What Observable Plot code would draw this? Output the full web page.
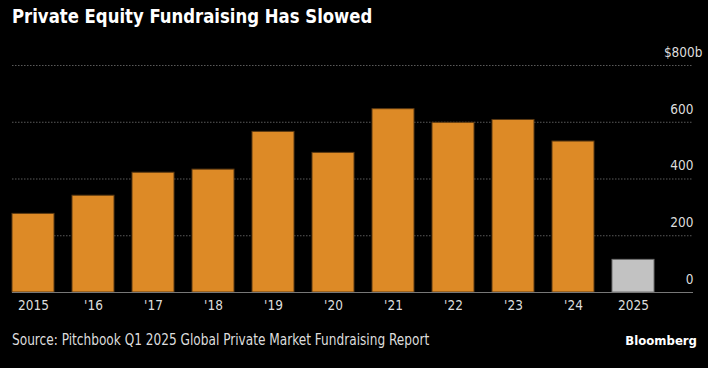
<!DOCTYPE html>
<html><head><meta charset="utf-8">
<script src="https://cdn.jsdelivr.net/npm/d3@7"></script>
<script src="https://cdn.jsdelivr.net/npm/@observablehq/plot@0.6"></script>
<style>
html,body{margin:0;padding:0;background:#000;width:708px;height:368px;overflow:hidden}
#title{height:36px;line-height:32px;padding-left:12px;color:#fff;font-weight:bold;font-size:19px;font-family:"DejaVu Sans Condensed","DejaVu Sans",sans-serif;white-space:nowrap}
#title span{display:inline-block;transform:scaleX(0.965);transform-origin:left center}
#foot{display:flex;justify-content:space-between;align-items:center;height:28px;padding:0 11px 0 12px;color:#ddd;white-space:nowrap}
#src{display:inline-block;font-family:"Liberation Sans Narrow","DejaVu Sans Condensed",sans-serif;font-size:15px;transform:scaleX(0.9);transform-origin:left center}
#logo{font-family:"DejaVu Sans Condensed",sans-serif;font-weight:bold;font-size:13px;color:#fff}
svg{display:block}
</style></head>
<body>
<div id="title"><span>Private Equity Fundraising Has Slowed</span></div>
<div id="chart"></div>
<div id="foot"><span id="src">Source: Pitchbook Q1 2025 Global Private Market Fundraising Report</span><span id="logo">Bloomberg</span></div>
<script>
const years = ["2015","'16","'17","'18","'19","'20","'21","'22","'23","'24","2025"];
const values = [277, 341, 422, 433, 566, 492, 646, 598, 608, 532, 115];
const partialYears = ["2025"];
const yTicks = [0, 200, 400, 600, 800];
const yTickLabels = ["0", "200", "400", "600", "$800b"];

const data = years.map((y, i) => ({year: y, value: values[i], partial: partialYears.includes(y)}));
const fmt = d => yTickLabels[yTicks.indexOf(d)];

const chart = Plot.plot({
  width: 708, height: 290,
  marginLeft: 12, marginRight: 15, marginTop: 29, marginBottom: 34,
  style: {background: "#000", color: "#ddd", fontFamily: "'DejaVu Sans Condensed',sans-serif", fontSize: "13.5px"},
  x: {domain: years, range: [12, 654], paddingInner: 0.3, paddingOuter: 0, label: null},
  y: {domain: [0, 800], label: null},
  marks: [
    Plot.ruleY(yTicks.filter(d => d > 0), {stroke: "#5a5a5a", strokeWidth: 1, strokeDasharray: "1.5,1.5"}),
    Plot.barY(data.filter(d => !d.partial), {x: "year", y: "value", fill: "#DD8A26", stroke: "#5c3a12", strokeWidth: 1}),
    Plot.barY(data.filter(d => d.partial), {x: "year", y: "value", fill: "#C2C2C2", stroke: "#6e6e6e", strokeWidth: 1}),
    Plot.ruleY([0], {stroke: "#777", strokeWidth: 1}),
    Plot.axisY(yTicks.slice(0, 4), {anchor: "right", tickSize: 0, tickPadding: 0, textAnchor: "end", dy: -13, tickFormat: fmt, fill: "#ddd"}),
    Plot.axisY(yTicks.slice(4), {anchor: "right", tickSize: 0, tickPadding: 0, textAnchor: "end", dy: -13, dx: 9, tickFormat: fmt, fill: "#ddd"}),
    Plot.axisX({tickSize: 0, tickPadding: 8, fill: "#ddd"})
  ]
});
document.getElementById("chart").appendChild(chart);
</script>
</body></html>
